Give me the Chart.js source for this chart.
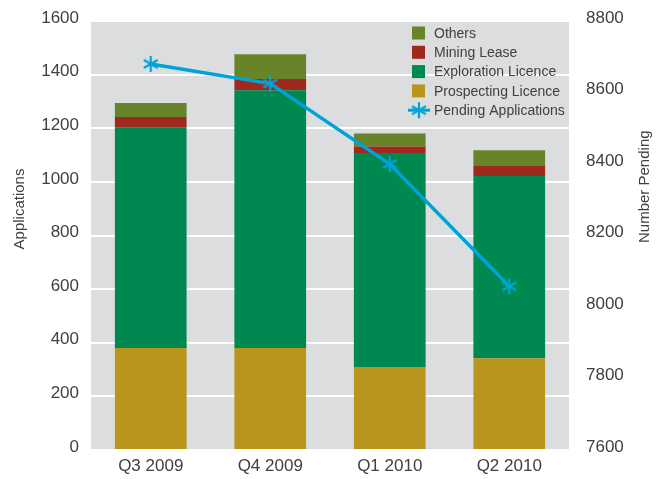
<!DOCTYPE html>
<html>
<head>
<meta charset="utf-8">
<script src="https://cdn.jsdelivr.net/npm/chart.js@4.4.1/dist/chart.umd.min.js"></script>
<style>
  html, body { margin: 0; padding: 0; background: #fff; }
  #wrap { width: 666px; height: 479px; }
</style>
</head>
<body>
<div id="wrap"><canvas id="myChart" width="666" height="479"></canvas></div>
<script>
// Dades llegides del gràfic
const quarters = ['Q3 2009', 'Q4 2009', 'Q1 2010', 'Q2 2010'];
const prospecting = [380, 380, 310, 342];
const exploration = [822, 962, 798, 680];
const miningLease = [40, 42, 24, 37];
const others = [52, 92, 48, 59];
const pending = [8680, 8625, 8400, 8058];

const textColor = '#404040';
const fontFamily = '"Liberation Sans", Arial, sans-serif';

// Marcador en forma d'asterisc (6 braços)
const makeAsterisk = (size, color, lw) => {
  const c = document.createElement('canvas');
  c.width = size;
  c.height = size;
  const g = c.getContext('2d');
  const r = size / 2 - 1;
  g.strokeStyle = color;
  g.lineWidth = lw;
  g.lineCap = 'butt';
  [90, 30, 150].forEach((deg) => {
    const a = (deg * Math.PI) / 180;
    g.beginPath();
    g.moveTo(size / 2 - r * Math.cos(a), size / 2 - r * Math.sin(a));
    g.lineTo(size / 2 + r * Math.cos(a), size / 2 + r * Math.sin(a));
    g.stroke();
  });
  return c;
};
const asterisk = makeAsterisk(18, '#00a3d8', 2.2);

// Fons gris de l'àrea del gràfic
const plotBackground = {
  id: 'plotBackground',
  beforeDraw(chart) {
    const { ctx, chartArea } = chart;
    ctx.save();
    ctx.fillStyle = '#dcdddf';
    ctx.fillRect(chartArea.left, chartArea.top, chartArea.right - chartArea.left, chartArea.bottom - chartArea.top);
    ctx.restore();
  },
};

// Títols dels eixos (tots dos llegits de baix a dalt)
const axisTitles = {
  id: 'axisTitles',
  afterDraw(chart) {
    const { ctx } = chart;
    ctx.save();
    ctx.font = '15px ' + fontFamily;
    ctx.fillStyle = textColor;
    ctx.textBaseline = 'middle';
    // Applications: centrat a y=209
    ctx.save();
    ctx.translate(20, 209);
    ctx.rotate(-Math.PI / 2);
    ctx.textAlign = 'center';
    ctx.fillText('Applications', 0, 0);
    ctx.restore();
    // Number Pending: comença a y=243
    ctx.save();
    ctx.translate(chart.width - 21, 243);
    ctx.rotate(-Math.PI / 2);
    ctx.textAlign = 'left';
    ctx.fillText('Number Pending', 0, 0);
    ctx.restore();
    ctx.restore();
  },
};

// Llegenda dins l'àrea del gràfic
const innerLegend = {
  id: 'innerLegend',
  afterDraw(chart) {
    const { ctx, chartArea } = chart;
    const ds = chart.data.datasets;
    const order = [3, 2, 1, 0, 4];
    const x0 = chartArea.right - 158;
    const y0 = chartArea.top + 12;
    ctx.save();
    ctx.font = '14px ' + fontFamily;
    ctx.textBaseline = 'middle';
    order.forEach((idx, i) => {
      const d = ds[idx];
      const y = y0 + i * 19.3;
      if (d.type === 'line') {
        ctx.strokeStyle = d.borderColor;
        ctx.lineWidth = 3;
        ctx.beginPath();
        ctx.moveTo(x0 - 3, y);
        ctx.lineTo(x0 + 19, y);
        ctx.stroke();
        ctx.drawImage(asterisk, x0 + 8 - 9, y - 9);
      } else {
        ctx.fillStyle = d.backgroundColor;
        ctx.fillRect(x0 + 1, y - 6.5, 13, 13);
      }
      ctx.fillStyle = textColor;
      ctx.fillText(d.label, x0 + 23, y + 1);
    });
    ctx.restore();
  },
};

const ctx = document.getElementById('myChart').getContext('2d');
const plain = (v) => String(v);

const chart = new Chart(ctx, {
  type: 'bar',
  data: {
    labels: quarters,
    datasets: [
      { label: 'Prospecting Licence', data: prospecting, backgroundColor: '#b9951e', order: 1 },
      { label: 'Exploration Licence', data: exploration, backgroundColor: '#008851', order: 1 },
      { label: 'Mining Lease', data: miningLease, backgroundColor: '#a0291e', order: 1 },
      { label: 'Others', data: others, backgroundColor: '#678428', order: 1 },
      {
        type: 'line',
        label: 'Pending Applications',
        data: pending,
        yAxisID: 'y1',
        borderColor: '#00a3d8',
        borderWidth: 3.5,
        pointStyle: asterisk,
        pointRadius: 9,
        tension: 0,
        order: 0,
      },
    ],
  },
  options: {
    responsive: false,
    animation: false,
    layout: { padding: { top: 21, left: 0, right: 0, bottom: 0 } },
    datasets: {
      bar: { barPercentage: 0.6, categoryPercentage: 1 },
    },
    plugins: {
      legend: { display: false },
      tooltip: { enabled: false },
    },
    scales: {
      x: {
        stacked: true,
        grid: { display: false, drawTicks: false },
        border: { display: false },
        ticks: { color: textColor, font: { family: fontFamily, size: 17 }, padding: 6 },
        afterFit: (scale) => {
          scale.height = 29;
          scale.paddingLeft = 0;
          scale.paddingRight = 0;
        },
      },
      y: {
        stacked: true,
        min: 0,
        max: 1600,
        ticks: { stepSize: 200, callback: plain, color: textColor, font: { family: fontFamily, size: 17 }, padding: 12, labelOffset: -3 },
        grid: { color: '#ffffff', lineWidth: 2, drawTicks: false },
        border: { display: false },
        afterFit: (scale) => {
          scale.width = 91;
          scale.paddingTop = 0;
          scale.paddingBottom = 0;
        },
      },
      y1: {
        position: 'right',
        min: 7600,
        max: 8800,
        ticks: { stepSize: 200, callback: plain, color: textColor, font: { family: fontFamily, size: 17 }, padding: 17, labelOffset: -3 },
        grid: { drawOnChartArea: false, drawTicks: false },
        border: { display: false },
        afterFit: (scale) => {
          scale.width = 97;
          scale.paddingTop = 0;
          scale.paddingBottom = 0;
        },
      },
    },
  },
  plugins: [plotBackground, axisTitles, innerLegend],
});
</script>
</body>
</html>
